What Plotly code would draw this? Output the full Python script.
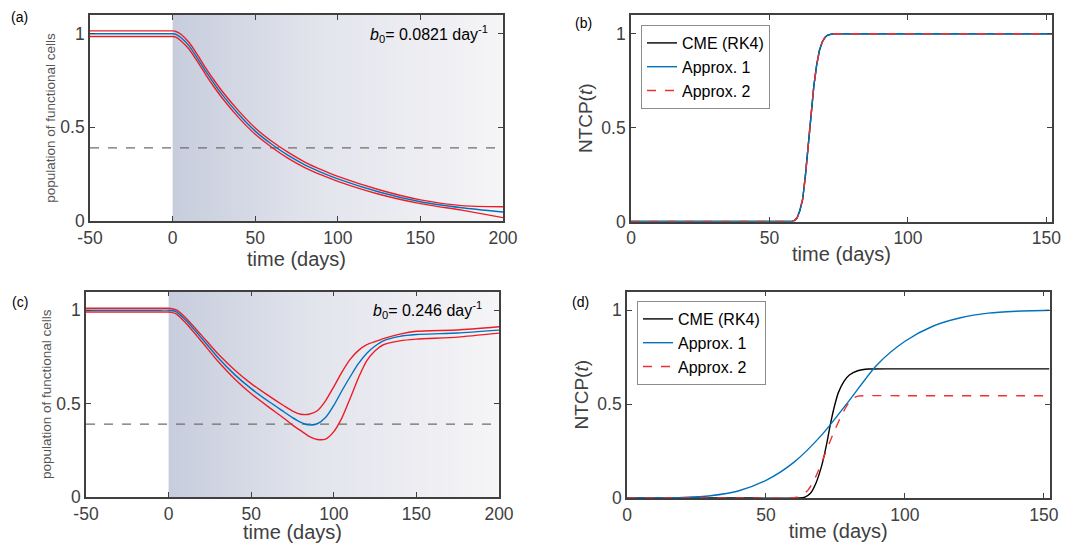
import numpy as np
import plotly.graph_objects as go

# ---------------- data ----------------
# Panel (a): b0 = 0.0821 day^-1
a_t = [-50, -5, 0, 2, 5, 10, 15, 20, 25, 30, 40, 50, 60, 70, 80, 90, 100, 125, 150, 175, 200]
a_mean = [1.0, 1.0, 1.0, 0.997, 0.98, 0.935, 0.87, 0.80, 0.735, 0.675, 0.57, 0.48, 0.41, 0.35,
          0.30, 0.26, 0.225, 0.155, 0.103, 0.071, 0.048]
a_upper = [1.015, 1.015, 1.015, 1.012, 0.997, 0.953, 0.888, 0.818, 0.753, 0.693, 0.588, 0.497,
           0.426, 0.366, 0.315, 0.274, 0.238, 0.167, 0.113, 0.082, 0.076]
a_lower = [0.985, 0.985, 0.985, 0.982, 0.963, 0.917, 0.852, 0.782, 0.717, 0.657, 0.552, 0.463,
           0.394, 0.334, 0.285, 0.246, 0.212, 0.143, 0.093, 0.058, 0.018]

# Panel (c): b0 = 0.246 day^-1
c_t = [-50, -5, 0, 2, 5, 10, 20, 30, 40, 50, 60, 70, 75, 80, 85, 90, 95, 100, 105, 110, 115,
       120, 125, 130, 140, 150, 175, 200]
c_mean = [1.0, 1.0, 1.0, 0.998, 0.99, 0.95, 0.85, 0.745, 0.655, 0.58, 0.515, 0.455, 0.425, 0.40,
          0.386, 0.392, 0.425, 0.49, 0.57, 0.645, 0.715, 0.77, 0.808, 0.836, 0.86, 0.87, 0.878,
          0.893]
c_upper = [1.01, 1.01, 1.01, 1.008, 1.0, 0.962, 0.865, 0.765, 0.68, 0.607, 0.545, 0.487, 0.46,
           0.443, 0.443, 0.462, 0.515, 0.59, 0.67, 0.738, 0.785, 0.815, 0.832, 0.848, 0.872,
           0.887, 0.894, 0.911]
c_lower = [0.99, 0.99, 0.99, 0.988, 0.978, 0.935, 0.832, 0.725, 0.632, 0.553, 0.485, 0.42, 0.385,
           0.355, 0.325, 0.308, 0.31, 0.35, 0.425, 0.53, 0.64, 0.73, 0.783, 0.815, 0.836, 0.845,
           0.856, 0.877]

threshold = 0.39

# Panel (b): NTCP(t), all three methods coincide
b_t = [0, 57, 58, 59, 60, 61, 62, 63, 64, 65, 66, 67, 68, 69, 70, 71, 72, 73, 152]
b_cme = [0, 0, 0, 0.005, 0.02, 0.06, 0.12, 0.25, 0.42, 0.58, 0.72, 0.83, 0.91, 0.955, 0.98,
         0.993, 0.998, 1.0, 1.0]
b_approx1 = list(b_cme)
b_approx2 = list(b_cme)

# Panel (d): NTCP(t)
d_cme_t = [0, 40, 62, 64, 66, 68, 70, 71, 72, 73, 74, 75, 76, 78, 80, 83, 87, 95, 120, 152]
d_cme = [0, 0, 0, 0.005, 0.025, 0.08, 0.17, 0.23, 0.30, 0.38, 0.45, 0.51, 0.56, 0.62, 0.655,
         0.678, 0.687, 0.688, 0.688, 0.688]
d_a1_t = [0, 10, 20, 30, 40, 50, 60, 70, 80, 90, 100, 110, 120, 130, 140, 152]
d_approx1 = [0, 0.0005, 0.003, 0.012, 0.037, 0.094, 0.19, 0.335, 0.52, 0.71, 0.835, 0.915,
             0.96, 0.985, 0.995, 1.0]
d_a2_t = [0, 40, 59, 61, 63, 65, 67, 69, 71, 73, 75, 77, 79, 81, 83, 86, 100, 152]
d_approx2 = [0, 0, 0, 0.004, 0.015, 0.04, 0.085, 0.15, 0.225, 0.30, 0.37, 0.435, 0.49, 0.528,
             0.543, 0.545, 0.545, 0.545]

x_ticks_pop = [-50, 0, 50, 100, 150, 200]
x_ticks_ntcp = [0, 50, 100, 150]
y_ticks = [0, 0.5, 1]
y_tick_text = ["0", "0.5", "1"]

# ---------------- styles ----------------
BLUE = "#0072BD"
RED = "#EE1C25"
RED_D = "#F03030"
AX = "#404040"
FONT = "Liberation Sans, Arial, Helvetica, sans-serif"

fig = go.Figure()

# gradient background for treatment period (panels a and c)
edges = np.linspace(0, 200, 161)
zrow = [list(range(len(edges) - 1))]
grad = [[0, "rgb(199,205,221)"], [0.45, "rgb(227,229,237)"], [1, "rgb(245,244,246)"]]
for xa, ya in (("x", "y"), ("x3", "y3")):
    fig.add_trace(go.Heatmap(x=edges, y=[0, 1.1], z=zrow, colorscale=grad, showscale=False,
                             hoverinfo="skip", xaxis=xa, yaxis=ya))

def add_pop(t, mean, up, lo, xa, ya):
    fig.add_trace(go.Scatter(x=[-50, 200], y=[threshold, threshold], mode="lines",
                             line=dict(color="#6e6e6e", width=1.2, dash="dash"),
                             showlegend=False, xaxis=xa, yaxis=ya, hoverinfo="skip"))
    for vals, col in ((up, RED), (lo, RED), (mean, BLUE)):
        fig.add_trace(go.Scatter(x=t, y=vals, mode="lines",
                                 line=dict(color=col, width=1.4, shape="spline", smoothing=0.6),
                                 showlegend=False, xaxis=xa, yaxis=ya))

add_pop(a_t, a_mean, a_upper, a_lower, "x", "y")
add_pop(c_t, c_mean, c_upper, c_lower, "x3", "y3")

def add_ntcp(tc, cme, t1, a1, t2, a2, xa, ya, leg, shape):
    fig.add_trace(go.Scatter(x=tc, y=cme, mode="lines", name="CME (RK4)",
                             line=dict(color="black", width=1.4, shape=shape, smoothing=0.5),
                             xaxis=xa, yaxis=ya, legend=leg))
    fig.add_trace(go.Scatter(x=t1, y=a1, mode="lines", name="Approx. 1",
                             line=dict(color=BLUE, width=1.4, shape=shape, smoothing=0.8),
                             xaxis=xa, yaxis=ya, legend=leg))
    fig.add_trace(go.Scatter(x=t2, y=a2, mode="lines", name="Approx. 2",
                             line=dict(color=RED_D, width=1.4, dash="dash", shape=shape,
                                       smoothing=0.5),
                             xaxis=xa, yaxis=ya, legend=leg))

add_ntcp(b_t, b_cme, b_t, b_approx1, b_t, b_approx2, "x2", "y2", "legend", "linear")
add_ntcp(d_cme_t, d_cme, d_a1_t, d_approx1, d_a2_t, d_approx2, "x4", "y4", "legend2", "spline")

# The page body adds an 8px offset, so the figure is 8px smaller and positions shifted.
OFF = 8
W, H = 1069 - OFF, 543 - OFF
def px(v):
    return (v - OFF) / W
def py(v):
    return 1 - (v - OFF) / H
def dx(a, b):
    return [px(a), px(b)]
def dy(top, bot):
    return [py(bot), py(top)]

axis_common = dict(showline=True, linecolor=AX, linewidth=1.6, mirror="ticks",
                   ticks="inside", ticklen=5, tickwidth=1.4, tickcolor=AX,
                   showgrid=False, zeroline=False, fixedrange=True, automargin=False,
                   tickfont=dict(family=FONT, size=17.5, color=AX))

xt = dict(text="time (days)", font=dict(family=FONT, size=20, color=AX), standoff=0)
pop_title = dict(text="population of functional cells",
                 font=dict(family=FONT, size=13.5, color="#555555"), standoff=2)
ntcp_title = dict(text="NTCP(<i>t</i>)", font=dict(family=FONT, size=19, color=AX), standoff=4)

yax = dict(tickvals=y_ticks, ticktext=y_tick_text, range=[0, 1.1])
xpop = dict(range=[-50, 200], tickvals=x_ticks_pop, ticktext=[str(v) for v in x_ticks_pop])
xntcp = dict(range=[0, 152], tickvals=x_ticks_ntcp, ticktext=[str(v) for v in x_ticks_ntcp])

leg_common = dict(xanchor="left", yanchor="top", bgcolor="white", bordercolor="#8c8c8c",
                  borderwidth=1, font=dict(family=FONT, size=16, color="black"),
                  tracegroupgap=0, itemwidth=30)

fig.update_layout(
    width=W, height=H, margin=dict(l=0, r=0, t=0, b=0, autoexpand=False),
    paper_bgcolor="white", plot_bgcolor="white",
    font=dict(family=FONT),
    xaxis=dict(domain=dx(90, 503), title=xt, anchor="y", **xpop, **axis_common),
    yaxis=dict(domain=dy(15, 221), title=pop_title, anchor="x", **yax, **axis_common),
    xaxis2=dict(domain=dx(631, 1052), title=xt, anchor="y2", **xntcp, **axis_common),
    yaxis2=dict(domain=dy(15, 221.5), title=ntcp_title, anchor="x2", **yax, **axis_common),
    xaxis3=dict(domain=dx(86, 499), title=xt, anchor="y3", **xpop, **axis_common),
    yaxis3=dict(domain=dy(291.5, 497), title=pop_title, anchor="x3", **yax, **axis_common),
    xaxis4=dict(domain=dx(627, 1049.5), title=xt, anchor="y4", **xntcp, **axis_common),
    yaxis4=dict(domain=dy(291.5, 498), title=ntcp_title, anchor="x4", **yax, **axis_common),
    legend=dict(x=px(641), y=py(25), **leg_common),
    legend2=dict(x=px(637), y=py(301), **leg_common),
    showlegend=True,
)

ann_font = dict(family=FONT, size=16, color="black")
fig.add_annotation(text="<i>b</i><sub>0</sub>= 0.0821 day<sup>-1</sup>", xref="x domain",
                   yref="y", x=0.968, y=1.0, xanchor="right", yanchor="middle",
                   showarrow=False, font=ann_font)
fig.add_annotation(text="<i>b</i><sub>0</sub>= 0.246 day<sup>-1</sup>", xref="x3 domain",
                   yref="y3", x=0.964, y=1.0, xanchor="right", yanchor="middle",
                   showarrow=False, font=ann_font)

lab_font = dict(family=FONT, size=14, color="black")
for txt, lx, ly in (("(a)", 19, 17), ("(b)", 583, 23), ("(c)", 20, 302), ("(d)", 580, 302)):
    fig.add_annotation(text=txt, xref="paper", yref="paper", x=px(lx), y=py(ly),
                       xanchor="center", yanchor="middle", showarrow=False, font=lab_font)

fig.write_html("out.html")
